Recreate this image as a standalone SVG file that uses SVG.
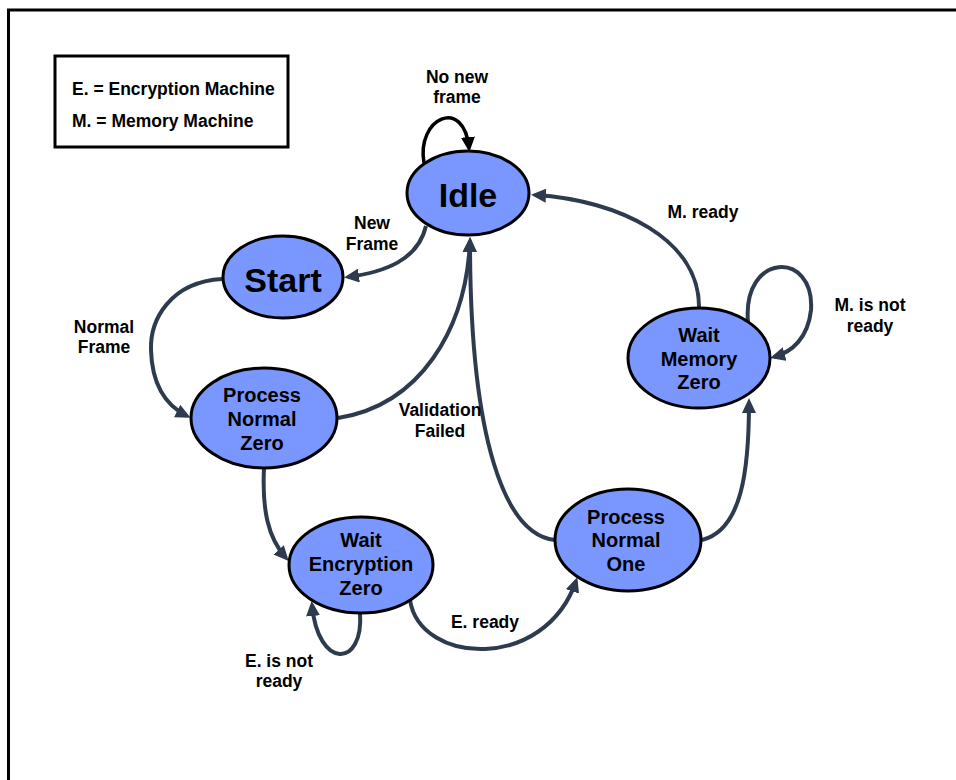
<svg xmlns="http://www.w3.org/2000/svg" width="956" height="780" viewBox="0 0 956 780">
  <defs>
    <marker id="arrow" markerUnits="userSpaceOnUse" markerWidth="16" markerHeight="14" viewBox="0 0 16 14" refX="11" refY="7" orient="auto">
      <path d="M0,0 L15,7 L0,14 z" fill="#2E3B4E"/>
    </marker>
    <marker id="arrow-black" markerUnits="userSpaceOnUse" markerWidth="16" markerHeight="14" viewBox="0 0 16 14" refX="11" refY="7" orient="auto">
      <path d="M0,0 L15,7 L0,14 z" fill="#000"/>
    </marker>
  </defs>
  <style>
    .frame { fill: none; stroke: #000; stroke-width: 3; }
    .state { fill: #7A97FF; stroke: #000; stroke-width: 3; }
    .name { font-family: "Liberation Sans", Arial, sans-serif; font-weight: bold; font-size: 20px; fill: #000; text-anchor: middle; }
    .big { font-size: 34px; }
    .label { font-family: "Liberation Sans", Arial, sans-serif; font-weight: bold; font-size: 17.5px; fill: #000; text-anchor: middle; }
    .legend { font-family: "Liberation Sans", Arial, sans-serif; font-weight: bold; font-size: 17.5px; fill: #000; }
    .edge { fill: none; stroke: #2E3B4E; stroke-width: 4; marker-end: url(#arrow); }
    .edge-black { fill: none; stroke: #000; stroke-width: 3.5; marker-end: url(#arrow-black); }
  </style>

  <rect x="0" y="0" width="956" height="780" fill="#fff"/>
  <!-- outer frame -->
  <rect class="frame" x="8.5" y="10" width="960" height="790"/>

  <!-- legend -->
  <g id="legend">
    <rect class="frame" x="55" y="56" width="233" height="91"/>
    <text class="legend" x="72" y="95">E. = Encryption Machine</text>
    <text class="legend" x="72" y="127">M. = Memory Machine</text>
  </g>

  <!-- transitions -->
  <g id="connectors">
    <path class="edge-black" d="M424 163 C416 118, 464 96, 469 148"/>
    <path class="edge" d="M426 226 C418 260, 385 272, 348 277"/>
    <path class="edge" d="M222 279 C170 282, 150 320, 151 350 C152 385, 165 405, 187 416"/>
    <path class="edge" d="M338 418 C420 405, 466 330, 470 241"/>
    <path class="edge" d="M555 540 C505 535, 470 440, 470 241"/>
    <path class="edge" d="M264 468 C262 510, 268 538, 286 558"/>
    <path class="edge" d="M360 613 C364 668, 318 670, 312 605"/>
    <path class="edge" d="M410 600 C420 665, 545 672, 576 581"/>
    <path class="edge" d="M702 540 C742 530, 749 470, 749 402"/>
    <path class="edge" d="M699 308 C700 240, 620 200, 535 195"/>
    <path class="edge" d="M748 322 C742 252, 815 250, 811 310 C808 338, 792 352, 774 357"/>
  </g>

  <!-- transition labels -->
  <g id="edge-labels">
    <text class="label" x="457" y="83">No new</text>
    <text class="label" x="457" y="103">frame</text>
    <text class="label" x="372" y="229">New</text>
    <text class="label" x="372" y="250">Frame</text>
    <text class="label" x="104" y="333">Normal</text>
    <text class="label" x="104" y="353">Frame</text>
    <text class="label" x="440" y="416">Validation</text>
    <text class="label" x="440" y="437">Failed</text>
    <text class="label" x="485" y="628">E. ready</text>
    <text class="label" x="279" y="667">E. is not</text>
    <text class="label" x="279" y="687">ready</text>
    <text class="label" x="703" y="218">M. ready</text>
    <text class="label" x="870" y="311">M. is not</text>
    <text class="label" x="870" y="332">ready</text>
  </g>

  <!-- states -->
  <g id="idle">
    <ellipse class="state" cx="468" cy="193" rx="61" ry="42"/>
    <text class="name big" x="468" y="207">Idle</text>
  </g>
  <g id="start">
    <ellipse class="state" cx="283" cy="277" rx="60" ry="41"/>
    <text class="name big" x="283" y="292">Start</text>
  </g>
  <g id="process-normal-zero">
    <ellipse class="state" cx="264" cy="418" rx="73" ry="50"/>
    <text class="name" x="262" y="402">Process</text>
    <text class="name" x="262" y="426">Normal</text>
    <text class="name" x="262" y="450">Zero</text>
  </g>
  <g id="wait-encryption-zero">
    <ellipse class="state" cx="361" cy="565" rx="72" ry="48"/>
    <text class="name" x="361" y="547">Wait</text>
    <text class="name" x="361" y="571">Encryption</text>
    <text class="name" x="361" y="595">Zero</text>
  </g>
  <g id="process-normal-one">
    <ellipse class="state" cx="628" cy="540" rx="73" ry="51"/>
    <text class="name" x="626" y="524">Process</text>
    <text class="name" x="626" y="547">Normal</text>
    <text class="name" x="626" y="571">One</text>
  </g>
  <g id="wait-memory-zero">
    <ellipse class="state" cx="699" cy="358" rx="71" ry="50"/>
    <text class="name" x="699" y="342">Wait</text>
    <text class="name" x="699" y="366">Memory</text>
    <text class="name" x="699" y="389">Zero</text>
  </g>
</svg>
